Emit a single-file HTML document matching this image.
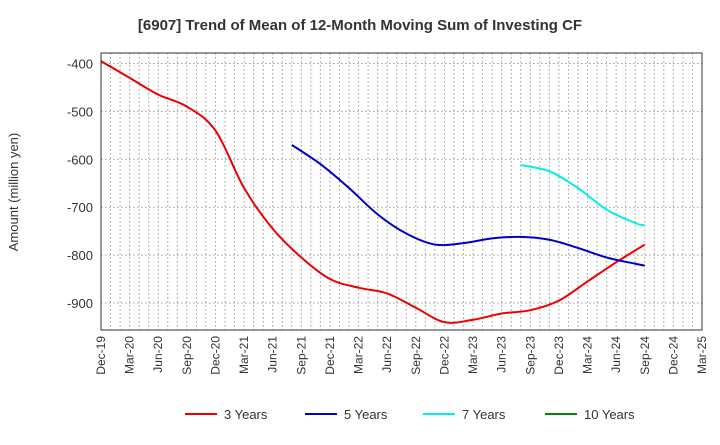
<!DOCTYPE html>
<html><head><meta charset="utf-8"><style>
body{margin:0;background:#fff;font-family:"Liberation Sans",sans-serif}
</style></head><body>
<svg id="c" width="720" height="440" xmlns="http://www.w3.org/2000/svg">
<text x="360" y="30" text-anchor="middle" font-size="15" font-weight="bold" fill="#333">[6907]  Trend of Mean of 12-Month Moving Sum of Investing CF</text>
<text x="18" y="192" transform="rotate(-90 18 192)" text-anchor="middle" font-size="13" fill="#333">Amount (million yen)</text>
<g id="grid"></g><g id="series"></g><g id="axes"></g><g id="legend"></g>
</svg>
<script>
const xLabels=["Dec-19","Mar-20","Jun-20","Sep-20","Dec-20","Mar-21","Jun-21","Sep-21","Dec-21","Mar-22","Jun-22","Sep-22","Dec-22","Mar-23","Jun-23","Sep-23","Dec-23","Mar-24","Jun-24","Sep-24","Dec-24","Mar-25"];
const yTicks=[-400,-500,-600,-700,-800,-900];
const m3=[0,3,6,9,12,15,18,21,24,27,30,33,36,39,42,45,48,51,54,57];
const v3=[-395,-430,-465,-490,-540,-660,-745,-805,-850,-868,-880,-910,-940,-935,-922,-915,-895,-855,-815,-778];
const m5=[20,23,26,29,32,35,38,41,44,47,50,53,56,57];
const v5=[-570,-610,-660,-715,-755,-778,-775,-765,-762,-768,-785,-805,-818,-822];
const m7=[44,47,50,53,56,57];
const v7=[-612,-625,-660,-705,-733,-738];
const m10=[];const v10=[];
const L=101,R=702,T=53,B=330;
const X=m=>L+m*(R-L)/63;
const Y=v=>63.5+(v+400)*(303-63.5)/-500;
const ns="http://www.w3.org/2000/svg";
function mk(p,t,a){const e=document.createElementNS(ns,t);for(const k in a)e.setAttribute(k,a[k]);p.appendChild(e);return e;}
const grid=document.getElementById('grid'),axes=document.getElementById('axes'),ser=document.getElementById('series'),leg=document.getElementById('legend');
for(let m=1;m<63;m++){const g=mk(grid,'line',{x1:X(m),x2:X(m),y1:T,y2:B,stroke:'#999','stroke-dasharray':'1.5,2.5','stroke-width':1});

}
yTicks.forEach(v=>{const g=mk(grid,'line',{x1:L,x2:R,y1:Y(v),y2:Y(v),stroke:'#999','stroke-dasharray':'1.5,2.5'});


const t=mk(axes,'text',{x:L-8,y:Y(v)+5,'text-anchor':'end','font-size':13,fill:'#333'});t.textContent=v;

});
const fr=mk(axes,'rect',{x:L,y:T,width:R-L,height:B-T,fill:'none',stroke:'#333','stroke-width':1});


xLabels.forEach((s,i)=>{const x=X(i*3);const t=mk(axes,'text',{x:x+4,y:B+6,'text-anchor':'end','font-size':12,fill:'#333',transform:`rotate(-90 ${x+4} ${B+6})`});t.textContent=s;

});
function path(ms,vs){const p=ms.map((m,i)=>[X(m),Y(vs[i])]);if(!p.length)return'';let d=`M${p[0][0]},${p[0][1]}`;
for(let i=0;i<p.length-1;i++){const p0=p[i-1]||p[i],p1=p[i],p2=p[i+1],p3=p[i+2]||p2;
d+=` C${p1[0]+(p2[0]-p0[0])/6},${p1[1]+(p2[1]-p0[1])/6} ${p2[0]-(p3[0]-p1[0])/6},${p2[1]-(p3[1]-p1[1])/6} ${p2[0]},${p2[1]}`;}return d;}
const S=[["3 Years",m3,v3,"#e00"],["5 Years",m5,v5,"#00c"],["7 Years",m7,v7,"#0ee"],["10 Years",m10,v10,"#080"]];
S.forEach((s,i)=>{if(s[1].length){const e=mk(ser,'path',{d:path(s[1],s[2]),fill:'none',stroke:s[3],'stroke-width':2});

}
const lx=[185,305,423,545][i];
const g=mk(leg,'g',{});


mk(g,'line',{x1:lx,x2:lx+32,y1:414,y2:414,stroke:s[3],'stroke-width':2});
const t=mk(g,'text',{x:lx+39,y:419,'font-size':13,fill:'#333'});t.textContent=s[0];});
</script>
</body></html>
